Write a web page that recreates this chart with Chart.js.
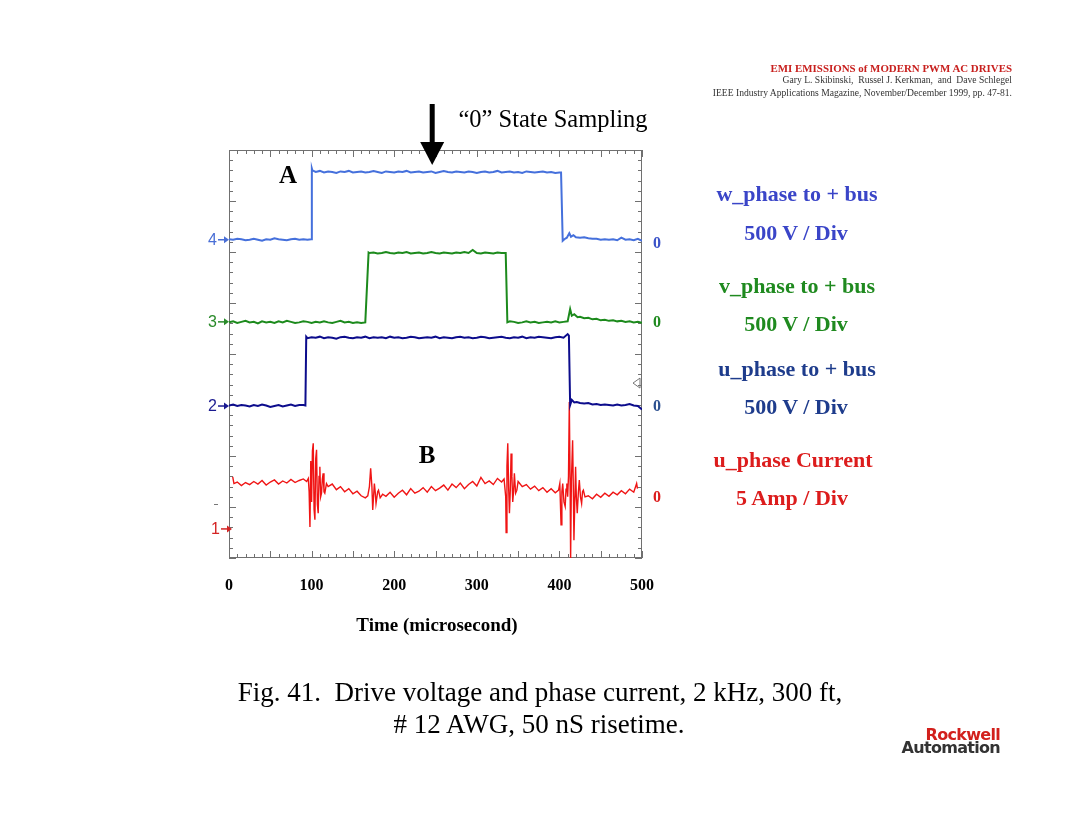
<!DOCTYPE html>
<html>
<head>
    <title>Drive voltage and phase current</title>
    <style>
        body { margin: 0; background: #fff; }
        #page { position: relative; width: 1080px; height: 834px; overflow: hidden; font-family: "Liberation Serif", serif; }
        #scope { position: absolute; left: 0; top: 0; }
        .c { position: absolute; transform: translate(-50%, -50%); white-space: nowrap; line-height: 1; }
        .r { position: absolute; right: 68px; transform: translateY(-50%); white-space: nowrap; line-height: 1; }
        .b { font-weight: bold; }
        .side { font-weight: bold; font-size: 22px; }
        .logo { position: absolute; right: 80px; transform: translateY(-50%); font-family: "DejaVu Sans", sans-serif; font-weight: bold; line-height: 1; letter-spacing: -0.7px; }
    </style>
</head>
<body>
<div id="page">
    <canvas id="scope" width="1080" height="834"></canvas>

    <div class="r b" style="top:68px;font-size:10.9px;color:#c8201e;">EMI EMISSIONS of MODERN PWM AC DRIVES</div>
    <div class="r" style="top:80px;font-size:9.6px;color:#333;">Gary L. Skibinski,&nbsp; Russel J. Kerkman,&nbsp; and&nbsp; Dave Schlegel</div>
    <div class="r" style="top:93px;font-size:9.6px;color:#333;">IEEE Industry Applications Magazine, November/December 1999, pp. 47-81.</div>

    <div class="c" style="left:553px;top:119px;font-size:24.5px;">&ldquo;0&rdquo; State Sampling</div>
    <div class="c b" style="left:288px;top:174px;font-size:25px;">A</div>
    <div class="c b" style="left:427px;top:454px;font-size:25px;">B</div>

    <div class="c side" style="left:797px;top:194px;color:#3a45c8;">w_phase to + bus</div>
    <div class="c side" style="left:796px;top:233px;color:#3a45c8;">500 V / Div</div>
    <div class="c side" style="left:797px;top:286px;color:#1f8a1f;">v_phase to + bus</div>
    <div class="c side" style="left:796px;top:324px;color:#1f8a1f;">500 V / Div</div>
    <div class="c side" style="left:797px;top:369px;color:#1e3c8c;">u_phase to + bus</div>
    <div class="c side" style="left:796px;top:407px;color:#1e3c8c;">500 V / Div</div>
    <div class="c side" style="left:793px;top:460px;color:#dc1c1c;">u_phase Current</div>
    <div class="c side" style="left:792px;top:498px;color:#dc1c1c;">5 Amp / Div</div>

    <div class="c b" style="left:437px;top:624px;font-size:19px;">Time (microsecond)</div>

    <div class="c" style="left:540px;top:692px;font-size:27px;">Fig. 41.&nbsp; Drive voltage and phase current, 2 kHz, 300 ft,</div>
    <div class="c" style="left:539px;top:724px;font-size:27px;"># 12 AWG, 50 nS risetime.</div>

    <div class="logo" style="top:735px;font-size:16px;color:#d2201c;">Rockwell</div>
    <div class="logo" style="top:748px;font-size:16px;color:#333;">Automation</div>
</div>

<script src="https://cdn.jsdelivr.net/npm/chart.js"></script>
<script>
    // screen units: y in divisions (0 = bottom, 8 = top), x in microseconds
    const xTicks = [0, 100, 200, 300, 400, 500];

    // w_phase to + bus
    const wTime = [
        0,5,10,15,20,25,30,35,40,45,
        50,55,60,65,70,75,80,85,90,95,
        99.5,100.3,101,
        105,110,115,120,125,130,135,140,145,150,
        155,160,165,170,175,180,185,190,195,200,
        205,210,215,220,225,230,235,240,245,250,
        255,260,265,270,275,280,285,290,295,300,
        305,310,315,320,325,330,335,340,345,350,
        355,360,365,370,375,380,385,390,395,400,
        402,
        404,406,409,412,414,417,420,
        425,430,435,440,445,450,455,460,465,470,
        475,480,485,490,495,500
    ];
    const wVolt = [
        6.25,6.24,6.26,6.25,6.23,6.24,6.26,6.24,6.22,6.25,
        6.24,6.27,6.25,6.24,6.23,6.25,6.26,6.24,6.25,6.24,
        6.25,7.64,7.60,
        7.57,7.59,7.56,7.58,7.57,7.55,7.58,7.57,7.59,7.56,
        7.57,7.58,7.56,7.57,7.59,7.57,7.55,7.58,7.57,7.56,
        7.58,7.57,7.59,7.56,7.57,7.58,7.56,7.57,7.58,7.55,
        7.57,7.59,7.57,7.56,7.58,7.57,7.56,7.58,7.57,7.55,
        7.57,7.58,7.56,7.57,7.59,7.56,7.57,7.58,7.56,7.57,
        7.55,7.58,7.57,7.56,7.57,7.58,7.56,7.57,7.55,7.56,
        7.56,
        6.22,6.25,6.28,6.37,6.30,6.33,6.29,
        6.28,6.29,6.27,6.26,6.26,6.24,6.25,6.24,6.25,6.23,
        6.28,6.24,6.25,6.23,6.26,6.22
    ];

    // v_phase to + bus
    const vTime = [
        0,5,10,15,20,25,30,35,40,45,
        50,55,60,65,70,75,80,85,90,95,
        100,105,110,115,120,125,130,135,140,145,
        150,155,160,165,
        169,170,
        175,180,185,190,195,200,205,210,215,220,
        225,230,235,240,245,250,255,260,265,270,
        275,280,285,290,295,300,305,310,315,320,
        325,330,335,
        337,340,
        345,350,355,360,365,370,375,380,385,390,
        395,400,405,
        410,413,415,418,422,425,
        430,435,440,445,450,455,460,465,470,475,
        480,485,490,495,500
    ];
    const vVolt = [
        4.62,4.64,4.61,4.63,4.65,4.62,4.63,4.60,4.64,4.62,
        4.63,4.61,4.64,4.62,4.65,4.63,4.61,4.62,4.64,4.63,
        4.61,4.63,4.62,4.64,4.62,4.61,4.63,4.65,4.62,4.63,
        4.61,4.62,4.61,4.62,
        5.99,5.98,
        5.99,5.97,5.98,6.00,5.98,5.97,5.99,5.98,6.00,5.97,
        5.98,5.99,5.97,5.98,6.00,5.98,5.97,5.99,5.98,5.97,
        5.99,5.98,6.00,5.98,6.04,5.98,5.97,5.99,5.98,5.97,
        5.99,5.98,5.98,
        4.62,4.64,
        4.63,4.61,4.62,4.64,4.62,4.63,4.61,4.62,4.63,4.62,
        4.64,4.62,4.63,
        4.64,4.88,4.75,4.78,4.72,4.73,
        4.70,4.71,4.68,4.69,4.66,4.67,4.65,4.66,4.64,4.65,
        4.63,4.64,4.62,4.63,4.61
    ];

    // u_phase to + bus
    const uTime = [
        0,5,10,15,20,25,30,35,40,45,
        50,55,60,65,70,75,80,85,90,
        92.5,93.5,95,
        100,105,110,115,120,125,130,135,140,145,
        150,155,160,165,170,175,180,185,190,195,
        200,205,210,215,220,225,230,235,240,245,
        250,255,260,265,270,275,280,285,290,295,
        300,305,310,315,320,325,330,335,340,345,
        350,355,360,365,370,375,380,385,390,395,
        400,405,410,
        411.5,413,415,418,421,
        425,430,435,440,445,450,455,460,465,470,
        475,480,485,490,495,500
    ];
    const uVolt = [
        2.99,3.01,2.98,3.00,2.99,2.97,3.00,2.98,3.01,2.99,
        2.96,2.98,3.00,2.97,2.99,3.01,2.98,3.00,3.00,
        2.99,4.34,4.31,
        4.33,4.32,4.34,4.31,4.33,4.32,4.30,4.33,4.34,4.32,
        4.31,4.33,4.32,4.34,4.31,4.33,4.32,4.33,4.31,4.34,
        4.32,4.33,4.31,4.32,4.34,4.33,4.31,4.32,4.33,4.32,
        4.34,4.31,4.33,4.32,4.31,4.33,4.34,4.32,4.33,4.31,
        4.32,4.34,4.33,4.31,4.32,4.33,4.34,4.32,4.31,4.33,
        4.32,4.34,4.31,4.33,4.32,4.34,4.33,4.32,4.31,4.33,
        4.34,4.32,4.39,
        4.36,3.00,3.10,3.05,3.06,
        3.04,3.03,3.04,3.01,3.02,3.00,3.01,3.00,2.99,3.01,
        2.99,3.00,3.02,2.99,2.98,2.91
    ];

    // u_phase current
    const iTime = [
        4.5,6,10,15,20,25,30,35,40,45,
        50,55,60,65,70,75,80,85,90,94,
        96,97,98,99,100,101,102,103,104,105,
        106,107,108,109,110,111,112,113,114,115,
        116,118,120,125,130,135,140,145,150,155,
        160,165,168,170,171.5,173,174,175,176,177,
        178,180,181,183,186,190,195,200,205,210,
        215,220,225,230,235,240,245,250,255,260,
        265,270,275,280,285,290,295,300,305,310,
        315,320,325,330,333,335,335.5,336.5,337.5,338.5,
        339.5,340.5,341.5,342.5,343.5,344.5,345.5,347,348.5,350,
        352,355,360,365,370,375,380,385,390,395,
        399,400.5,402,403,404,405.5,407,408,409,410,
        411,412,413,413.6,414.5,416,417,417.6,418.5,419.6,
        420.5,421.6,423,424.1,425.5,426.9,428,429,431,435,
        440,445,450,455,460,465,470,475,480,485,
        490,493.5,494.5
    ];
    const iAmp = [
        1.59,1.46,1.49,1.42,1.48,1.44,1.50,1.45,1.52,1.43,
        1.49,1.53,1.45,1.51,1.47,1.54,1.48,1.52,1.55,1.50,
        1.56,1.30,0.61,1.90,1.10,2.10,2.25,0.95,0.75,1.95,
        2.12,1.05,0.88,1.60,1.79,1.20,1.27,1.55,1.66,1.30,
        1.27,1.46,1.40,1.45,1.34,1.40,1.30,1.36,1.26,1.31,
        1.22,1.18,1.22,1.40,1.76,1.40,0.94,1.20,1.46,1.30,
        1.07,1.30,1.33,1.18,1.25,1.21,1.29,1.19,1.27,1.33,
        1.24,1.36,1.27,1.31,1.38,1.29,1.40,1.32,1.37,1.43,
        1.33,1.45,1.38,1.47,1.36,1.44,1.50,1.41,1.58,1.46,
        1.51,1.44,1.56,1.49,1.55,1.20,0.50,1.80,2.25,1.40,
        0.88,1.30,2.05,1.60,1.10,1.30,1.66,1.27,1.33,1.50,
        1.46,1.40,1.44,1.35,1.41,1.32,1.38,1.29,1.36,1.28,
        1.33,1.46,0.65,1.30,1.46,1.10,1.01,1.35,1.46,1.20,
        1.60,3.06,1.40,0.00,1.50,2.31,1.20,0.35,1.00,1.79,
        1.20,0.88,1.30,1.53,1.20,1.07,1.30,1.33,1.20,1.22,
        1.16,1.25,1.19,1.27,1.21,1.29,1.24,1.32,1.26,1.35,
        1.29,1.46,1.36
    ];

    // channel markers on the scope screen
    const channelTags = ['4', '3', '2', '1'];
    const channelTagLevels = [6.24, 4.63, 2.98, 0.57];
    const zeroLevels = [6.18, 4.63, 2.98, 1.20];
    const triggerLevel = 3.43;
    const samplingTime = 246;

    const traceColors = ['#4570dc', '#1c8a1c', '#0c0c8c', '#f01414'];
    const tagColors = ['#4a6fd6', '#2a8a2a', '#1a1a90', '#d42424'];
    const zeroColors = ['#3a52c8', '#1f8a1f', '#2b4f8f', '#dc1c1c'];

    function toPoints(ts, vs){
        return ts.map((t, i) => ({x: t, y: vs[i]}));
    }

    const scopeFrame = {
        id: 'scopeFrame',
        beforeDatasetsDraw(chart){
            const {ctx, chartArea: a, scales: {x, y}} = chart;
            ctx.save();
            ctx.strokeStyle = '#707070';
            ctx.lineWidth = 1;
            ctx.strokeRect(a.left + 0.5, a.top + 0.5, a.right - a.left - 1, a.bottom - a.top - 1);
            ctx.beginPath();
            for (let t = 0; t <= 500; t += 10){
                const px = Math.round(x.getPixelForValue(t)) + 0.5;
                const len = t % 50 === 0 ? 7 : 4;
                ctx.moveTo(px, a.bottom); ctx.lineTo(px, a.bottom - len);
                ctx.moveTo(px, a.top); ctx.lineTo(px, a.top + len);
            }
            for (let k = 0; k <= 40; k++){
                const py = Math.round(y.getPixelForValue(k / 5)) + 0.5;
                const len = k % 5 === 0 ? 7 : 4;
                ctx.moveTo(a.left, py); ctx.lineTo(a.left + len, py);
                ctx.moveTo(a.right, py); ctx.lineTo(a.right - len, py);
            }
            ctx.stroke();
            ctx.restore();
        },
        afterDraw(chart){
            const {ctx, chartArea: a, scales: {x, y}} = chart;
            ctx.save();
            // channel tags on the left
            channelTags.forEach((tag, i) => {
                const py = y.getPixelForValue(channelTagLevels[i]);
                const shift = tag === '1' ? 3 : 0;
                ctx.fillStyle = tagColors[i];
                ctx.strokeStyle = tagColors[i];
                ctx.font = '16px "Liberation Sans"';
                ctx.textAlign = 'right';
                ctx.textBaseline = 'middle';
                ctx.fillText(tag, a.left - 12 + shift, py + 1);
                ctx.lineWidth = 1.5;
                ctx.beginPath();
                ctx.moveTo(a.left - 11 + shift, py);
                ctx.lineTo(a.left - 4 + shift, py);
                ctx.stroke();
                ctx.beginPath();
                ctx.moveTo(a.left - 5 + shift, py - 3.5);
                ctx.lineTo(a.left + shift, py);
                ctx.lineTo(a.left - 5 + shift, py + 3.5);
                ctx.closePath();
                ctx.fill();
            });
            // small dash near channel 1
            ctx.strokeStyle = '#777';
            ctx.lineWidth = 1;
            ctx.beginPath();
            const dy = Math.round(y.getPixelForValue(1.06)) + 0.5;
            ctx.moveTo(a.left - 15, dy); ctx.lineTo(a.left - 11, dy);
            ctx.stroke();
            // zero labels on the right
            ctx.font = 'bold 16px "Liberation Serif"';
            ctx.textAlign = 'center';
            ctx.textBaseline = 'middle';
            zeroLevels.forEach((lv, i) => {
                ctx.fillStyle = zeroColors[i];
                ctx.fillText('0', a.right + 15, y.getPixelForValue(lv) + 1);
            });
            // trigger marker
            const ty = y.getPixelForValue(triggerLevel);
            ctx.strokeStyle = '#777';
            ctx.beginPath();
            ctx.moveTo(a.right - 2, ty - 5);
            ctx.lineTo(a.right - 9, ty);
            ctx.lineTo(a.right - 2, ty + 5);
            ctx.closePath();
            ctx.stroke();
            // "0" state sampling arrow
            const ax = x.getPixelForValue(samplingTime);
            ctx.fillStyle = '#000';
            ctx.fillRect(ax - 2.5, a.top - 46, 5, 40);
            ctx.beginPath();
            ctx.moveTo(ax - 12, a.top - 8);
            ctx.lineTo(ax + 12, a.top - 8);
            ctx.lineTo(ax, a.top + 15);
            ctx.closePath();
            ctx.fill();
            ctx.restore();
        }
    };

    const traceStyle = {pointRadius: 0, tension: 0, fill: false};
    const data = {
        datasets: [
            {label: 'w_phase to + bus', data: toPoints(wTime, wVolt), borderColor: traceColors[0], borderWidth: 2, ...traceStyle},
            {label: 'v_phase to + bus', data: toPoints(vTime, vVolt), borderColor: traceColors[1], borderWidth: 2, ...traceStyle},
            {label: 'u_phase to + bus', data: toPoints(uTime, uVolt), borderColor: traceColors[2], borderWidth: 2, ...traceStyle},
            {label: 'u_phase Current', data: toPoints(iTime, iAmp), borderColor: traceColors[3], borderWidth: 1.4, ...traceStyle}
        ]
    };

    const config = {
        type: 'line',
        data,
        options: {
            responsive: false,
            animation: false,
            layout: {padding: {left: 229, right: 438, top: 150, bottom: 0}},
            plugins: {legend: {display: false}, tooltip: {enabled: false}},
            scales: {
                x: {
                    type: 'linear', min: 0, max: 500,
                    afterFit: (scale) => { scale.height = 276; },
                    afterBuildTicks: (scale) => { scale.ticks = xTicks.map(v => ({value: v})); },
                    ticks: {padding: 18, color: '#000', maxRotation: 0, font: {family: 'Liberation Serif', size: 16, weight: 'bold'}},
                    grid: {display: false, drawTicks: false},
                    border: {display: false}
                },
                y: {min: 0, max: 8, display: false}
            }
        },
        plugins: [scopeFrame]
    };

    let scopeChart = new Chart(document.getElementById('scope'), config);
</script>
</body>
</html>
